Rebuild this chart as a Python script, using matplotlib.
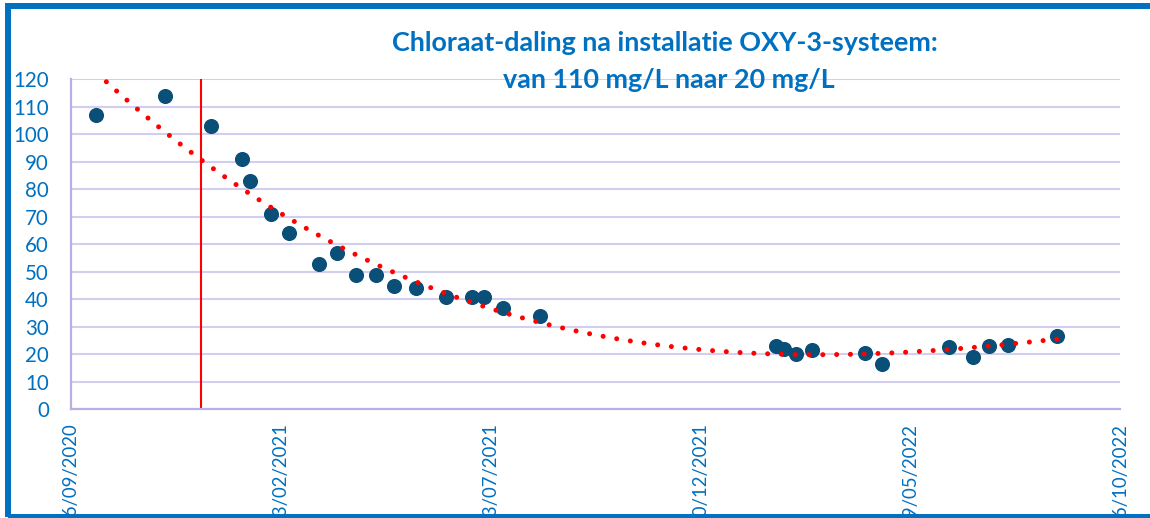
import numpy as np
import pandas as pd
import matplotlib
matplotlib.use('Agg')
import matplotlib.pyplot as plt
import matplotlib.dates as mdates
from matplotlib.patches import Rectangle

# Meetpunten chloraat (mg/L)
sample_dates = [
    '2020-10-14', '2020-12-02', '2021-01-04', '2021-01-26', '2021-02-01',
    '2021-02-16', '2021-03-01', '2021-03-22', '2021-04-04', '2021-04-18',
    '2021-05-02', '2021-05-15', '2021-05-31', '2021-06-21', '2021-07-10',
    '2021-07-18', '2021-08-01', '2021-08-27', '2022-02-12', '2022-02-18',
    '2022-02-26', '2022-03-10', '2022-04-17', '2022-04-29', '2022-06-16',
    '2022-07-03', '2022-07-14', '2022-07-28', '2022-09-01',
]
chlorate = [
    107, 114, 103, 91, 83,
    71, 64, 53, 57, 49,
    49, 45, 44, 41, 41,
    41, 37, 34, 23, 22,
    20, 21.6, 20.6, 16.5, 22.8,
    19.2, 23, 23.4, 26.8,
]
install_date = '2020-12-28'   # installatie OXY-3
axis_start = '2020-09-26'
axis_end = '2022-10-16'
title_lines = ['Chloraat-daling na installatie OXY-3-systeem:',
               'van 110 mg/L naar 20 mg/L']

BLUE = '#0070C0'
MARKER = '#0A4F77'
GRID = '#D2CEF0'
SPINE = '#B6B0E6'

plt.rcParams['font.family'] = ['Lato', 'DejaVu Sans']

dates = pd.to_datetime(sample_dates)
x = mdates.date2num(dates)

# polynomiale trendlijn (zoals in Excel)
coef = np.polyfit(x - x[0], chlorate, 3)
xt = np.linspace(x[0], x[-1], 400)
yt = np.polyval(coef, xt - x[0])

fig = plt.figure(figsize=(11.5, 5.18), dpi=100)
ax = fig.add_axes([71 / 1150, 108.7 / 518, 1049 / 1150, 330 / 518])

ax.scatter(dates, chlorate, s=118, color=MARKER, zorder=3, linewidths=0)
ax.plot(mdates.num2date(xt), yt, color='red', lw=3.6,
        linestyle=(0, (0.01, 2.75)), dash_capstyle='round', zorder=4)
ax.axvline(pd.Timestamp(install_date), color='red', lw=1.5, zorder=2)

ax.set_ylim(0, 120)
ax.set_yticks(range(0, 121, 10))
ax.set_xlim(pd.Timestamp(axis_start), pd.Timestamp(axis_end))
ticks = pd.date_range(axis_start, periods=6, freq='150D')
ax.set_xticks(ticks)
ax.xaxis.set_major_formatter(mdates.DateFormatter('%d/%m/%Y'))
ax.grid(axis='y', color=GRID, lw=1.5, zorder=0)
ax.set_axisbelow(True)

for s in ['top', 'right']:
    ax.spines[s].set_visible(False)
for s in ['left', 'bottom']:
    ax.spines[s].set_color(SPINE)
    ax.spines[s].set_linewidth(1.6)

ax.tick_params(axis='y', length=0, pad=16, labelsize=14.8, labelcolor=BLUE)
ax.tick_params(axis='x', length=0, pad=10, labelsize=13.4, labelcolor=BLUE,
               labelrotation=90)

fig.text(665 / 1150, 1 - 51 / 518, title_lines[0], ha='center', va='baseline',
         fontsize=19.4, fontweight='bold', color=BLUE)
fig.text(669 / 1150, 1 - 88 / 518, title_lines[1], ha='center', va='baseline',
         fontsize=19.4, fontweight='bold', color=BLUE)

# kader rond de grafiek
frame = Rectangle((8 / 1150, 1 - 517 / 518), 1.1, 511 / 518,
                  transform=fig.transFigure, fill=False, edgecolor=BLUE,
                  lw=4.3, zorder=10)
fig.patches.append(frame)

fig.savefig('out.png', dpi=100)
